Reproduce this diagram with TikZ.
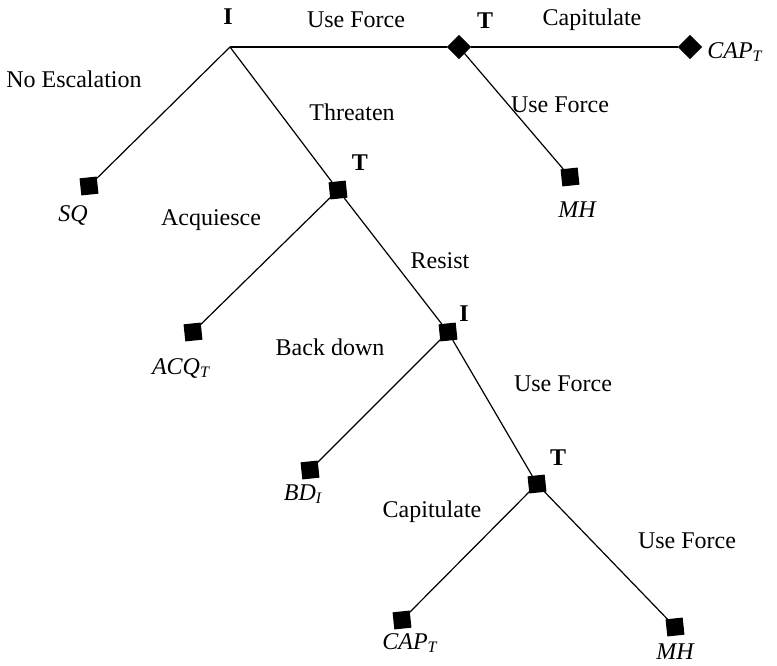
\documentclass[tikz,border=0pt]{standalone}
\usepackage{fontspec}
\setmainfont{Liberation Serif}
\usetikzlibrary{shapes.geometric}
\tikzset{
    term/.style={draw, fill=black, rectangle, rotate=6, inner sep=0pt, minimum size=8pt},
    dia/.style={draw, fill=black, diamond, inner sep=0pt, minimum size=11.5pt},
    player/.style={font=\bfseries},
    move/.style={},
    payoff/.style={font=\itshape}
}
\begin{document}
\fontsize{12}{14}\selectfont
\begin{tikzpicture}[x=0.5pt,y=-0.5pt,line width=0.6pt]
\useasboundingbox (0,0) rectangle (777,665);
% decision nodes
\coordinate (i1) at (230,47);
\node[dia] (t0) at (459,47) {};
\node[term] (t1) at (338,190) {};
\node[term] (i2) at (448,332) {};
\node[term] (t2) at (537,484) {};
% end nodes
\node[dia] (cap0) at (690,47) {};
\node[term] (mh0) at (570,177) {};
\node[term] (sq) at (89,186) {};
\node[term] (acq) at (193,332) {};
\node[term] (bd) at (310,470) {};
\node[term] (cap1) at (402,620) {};
\node[term] (mh1) at (675,627) {};

\draw (i1) -- (t0);
\draw (t0) -- (cap0);
\draw (t0) -- (mh0);
\draw (i1) -- (sq);
\draw (i1) -- (t1);
\draw (t1) -- (acq);
\draw (t1) -- (i2);
\draw (i2) -- (bd);
\draw (i2) -- (t2);
\draw (t2) -- (cap1);
\draw (t2) -- (mh1);

% players
\node[player] (pi1) at (228,17) {I};
\node[player] (pt0) at (485,21) {T};
\node[player] (pt1) at (360,163) {T};
\node[player] (pi2) at (464,314) {I};
\node[player] (pt2) at (558,458) {T};

% moves
\node[move] (m1) at (356,20) {Use Force};
\node[move] (m2) at (592,20) {Capitulate};
\node[move] (m3) at (560,105) {Use Force};
\node[move] (m4) at (74,79) {No Escalation};
\node[move] (m5) at (352,112) {Threaten};
\node[move] (m6) at (211,220) {Acquiesce};
\node[move] (m7) at (440,261) {Resist};
\node[move] (m8) at (330,347) {Back down};
\node[move] (m9) at (563,384) {Use Force};
\node[move] (m10) at (432,512) {Capitulate};
\node[move] (m11) at (687,541) {Use Force};

% outcomes
\node[payoff] (o1) at (735,52) {CAP\textsubscript{T}};
\node[payoff] (o2) at (577,210) {MH};
\node[payoff] (o3) at (73,215) {SQ};
\node[payoff] (o4) at (181,368) {ACQ\textsubscript{T}};
\node[payoff] (o5) at (303,494) {BD\textsubscript{I}};
\node[payoff] (o6) at (410,643) {CAP\textsubscript{T}};
\node[payoff] (o7) at (675,652) {MH};
\end{tikzpicture}
\end{document}
